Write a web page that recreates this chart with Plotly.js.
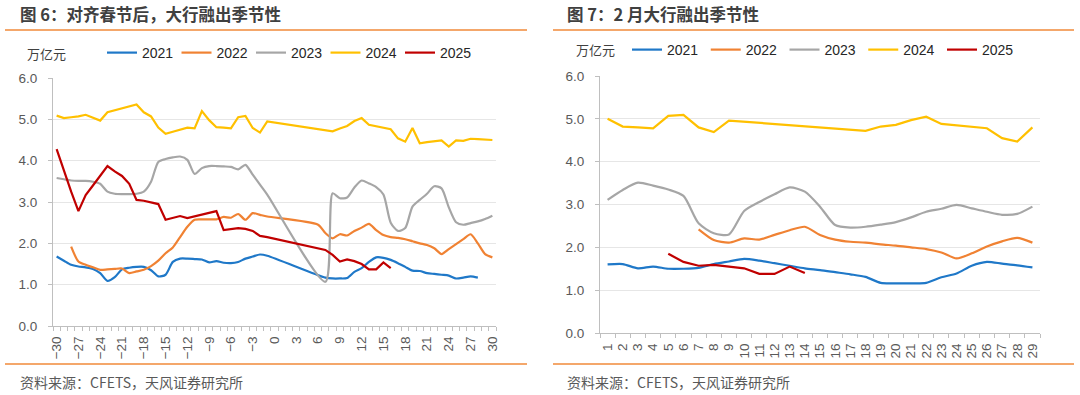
<!DOCTYPE html>
<html>
<head>
<meta charset="utf-8">
<script src="https://cdn.plot.ly/plotly-3.0.1.min.js"></script>
<style>
html,body{margin:0;padding:0;background:#ffffff;}
#chart{width:1080px;height:395px;}
</style>
</head>
<body>
<div id="chart"></div>
<script>
// ---------- Figure 6: days relative to Spring Festival ----------
const daysLeft = [-30,-29,-28,-27,-26,-25,-24,-23,-22,-21,-20,-19,-18,-17,-16,-15,-14,-13,-12,-11,-10,-9,-8,-7,-6,-5,-4,-3,-2,-1,
  0,1,2,3,4,5,6,7,8,9,10,11,12,13,14,15,16,17,18,19,20,21,22,23,24,25,26,27,28,29,30];

const left2021 = [1.68,1.58,1.48,1.44,1.42,1.38,1.28,1.09,1.18,1.37,1.41,1.43,1.43,1.35,1.20,1.24,1.55,1.63,1.63,1.62,1.61,1.54,1.57,1.53,1.52,1.55,1.63,1.68,1.73,1.70,
  null,null,null,null,null,null,null,
  1.17,1.15,1.15,1.16,1.31,1.40,1.55,1.66,1.65,1.60,1.52,1.43,1.34,1.33,1.28,1.26,1.24,1.22,1.15,1.17,1.20,1.17,null,null];

const left2022 = [null,null,1.92,1.56,1.48,1.42,1.36,1.37,1.38,1.39,1.28,1.32,1.36,1.45,1.58,1.76,1.90,2.15,2.40,2.57,2.58,2.58,2.58,2.64,2.62,2.71,2.57,2.73,2.69,2.65,
  null,null,null,null,null,null,
  2.45,2.25,2.12,2.22,2.19,2.30,2.38,2.47,2.32,2.20,2.15,2.13,2.10,2.05,2.00,1.96,1.88,1.74,1.86,1.98,2.10,2.22,2.00,1.74,1.66];

const left2023 = [3.58,3.55,3.52,3.51,3.51,3.49,3.44,3.25,3.20,3.19,3.19,3.20,3.25,3.49,3.97,4.04,4.08,4.10,4.02,3.68,3.82,3.87,3.87,3.86,3.85,3.79,3.90,3.66,3.42,3.18,
  null,null,null,null,null,null,null,
  1.07,3.21,3.09,3.11,3.35,3.52,3.45,3.36,3.18,2.50,2.30,2.37,2.89,3.05,3.20,3.38,3.33,2.87,2.51,2.45,2.49,2.53,2.59,2.67];

const left2024 = [5.09,5.03,5.05,5.07,5.11,5.03,4.97,5.17,5.22,5.27,5.32,5.36,5.17,5.07,4.80,4.65,4.70,4.75,4.80,4.78,5.20,4.98,4.81,4.80,4.78,5.05,5.08,4.79,4.68,4.95,
  null,null,null,null,null,null,null,null,
  4.71,4.78,4.84,4.96,5.03,4.87,4.83,4.80,4.76,4.54,4.46,4.79,4.42,4.45,4.47,4.49,4.34,4.49,4.48,4.53,4.52,4.51,4.50];

const left2025 = [4.28,3.75,3.25,2.78,3.17,3.40,3.63,3.87,3.74,3.63,3.44,3.05,3.03,2.99,2.95,2.57,2.62,2.66,2.61,2.65,2.69,2.73,2.78,2.32,2.34,2.37,2.35,2.30,2.18,2.15,
  null,null,null,null,null,null,null,
  1.84,1.72,1.56,1.61,1.57,1.50,1.37,1.37,1.54,1.40,null,null,null,null,null,null,null,null,null,null,null,null,null,null];

// ---------- Figure 7: February calendar days ----------
const daysRight = [1,2,3,4,5,6,7,8,9,10,11,12,13,14,15,16,17,18,19,20,21,22,23,24,25,26,27,28,29];

const right2021 = [1.60,1.61,1.51,1.55,1.50,1.50,1.52,1.61,1.67,1.73,1.69,1.63,1.57,1.51,1.47,1.42,1.37,1.31,1.17,1.16,1.16,1.17,1.30,1.39,1.57,1.66,1.62,1.58,1.53];
const right2022 = [null,null,null,null,null,null,2.42,2.17,2.11,2.21,2.18,2.29,2.40,2.48,2.29,2.18,2.13,2.11,2.07,2.04,2.00,1.96,1.88,1.74,1.86,2.02,2.14,2.22,2.11];
const right2023 = [3.11,3.34,3.51,3.44,3.35,3.20,2.56,2.33,2.30,2.85,3.06,3.24,3.40,3.30,2.95,2.52,2.46,2.48,2.53,2.59,2.70,2.83,2.90,2.99,2.91,2.83,2.76,2.78,2.95];
const right2024 = [5.00,4.82,4.80,4.78,5.07,5.09,4.80,4.69,4.96,null,null,null,null,null,null,null,null,4.72,4.82,4.86,4.97,5.05,4.88,null,null,4.78,4.55,4.47,4.80];
const right2025 = [null,null,null,null,1.85,1.66,1.57,1.59,1.55,1.51,1.38,1.38,1.55,1.40,null,null,null,null,null,null,null,null,null,null,null,null,null,null,null];

const seriesNames = ['2021','2022','2023','2024','2025'];
const seriesColors = ['#1F78C8','#F08233','#A6A6A6','#FFC000','#C00000'];
const smoothSeries = [true,true,true,false,false];

const leftValues = [left2021,left2022,left2023,left2024,left2025];
const rightValues = [right2021,right2022,right2023,right2024,right2025];

const titleLeft = '图 6：对齐春节后，大行融出季节性';
const titleRight = '图 7：2 月大行融出季节性';
const unitText = '万亿元';
const sourceText = '资料来源：CFETS，天风证券研究所';

const LATIN = 'Liberation Sans, Arial, Noto Sans CJK SC, sans-serif';
const CJK = 'Noto Sans CJK SC, Liberation Sans, sans-serif';
const ORANGE_RULE = '#F08A3A';
const W = 1080, H = 395;
const px = v => v / W;
const py = v => 1 - v / H;

const traces = [];
seriesNames.forEach((name, i) => {
  const line = {color: seriesColors[i], width: 2.2};
  if (smoothSeries[i]) { line.shape = 'spline'; line.smoothing = 0.7; }
  traces.push({
    type: 'scatter', mode: 'lines', name: name,
    x: daysLeft, y: leftValues[i], connectgaps: true,
    line: line, xaxis: 'x', yaxis: 'y', legend: 'legend', hoverinfo: 'skip'
  });
  traces.push({
    type: 'scatter', mode: 'lines', name: name,
    x: daysRight, y: rightValues[i], connectgaps: true,
    line: Object.assign({}, line), xaxis: 'x2', yaxis: 'y2', legend: 'legend2', hoverinfo: 'skip'
  });
});

const tickFont = {family: LATIN, size: 13.5, color: '#595959'};
const axisLine = '#BFBFBF';

function xAxis(domain, range, tick0, dtick) {
  return {
    domain: domain, range: range, type: 'linear',
    tickmode: 'linear', tick0: tick0, dtick: dtick,
    ticks: '', tickangle: -90, tickfont: tickFont,
    showline: true, linecolor: axisLine, linewidth: 1,
    showgrid: false, zeroline: false, fixedrange: true,
    ticklabelstandoff: 4,
    minor: {tickmode: 'linear', tick0: 0.5, dtick: 1, ticks: 'outside', ticklen: 4, tickcolor: axisLine, tickwidth: 1, showgrid: false}
  };
}
function yAxis(domain, anchor) {
  return {
    domain: domain, range: [0, 6], tickmode: 'linear', tick0: 0, dtick: 1,
    tickformat: '.1f', tickfont: tickFont, anchor: anchor,
    showline: true, linecolor: axisLine, linewidth: 1,
    ticks: 'outside', ticklen: 4, tickcolor: axisLine,
    showgrid: true, gridcolor: '#E6E6E6', gridwidth: 1,
    zeroline: false, fixedrange: true, ticklabelstandoff: 8
  };
}

const legendBase = {
  orientation: 'h', xanchor: 'left', yanchor: 'middle',
  font: {family: LATIN, size: 14, color: '#262626'},
  bgcolor: 'rgba(0,0,0,0)', borderwidth: 0,
  itemwidth: 30, entrywidthmode: 'pixels', traceorder: 'normal',
  itemclick: false, itemdoubleclick: false
};

const layout = {
  width: W, height: H,
  margin: {l: 0, r: 0, t: 0, b: 0},
  paper_bgcolor: '#ffffff', plot_bgcolor: '#ffffff',
  font: {family: LATIN, color: '#595959'},
  showlegend: true,
  xaxis: Object.assign(xAxis([px(53), px(496)], [-30.5, 30.5], -30, 3), {anchor: 'y'}),
  yaxis: yAxis([py(326), py(78)], 'x'),
  xaxis2: Object.assign(xAxis([px(600), px(1040)], [0.5, 29.5], 1, 1), {anchor: 'y2'}),
  yaxis2: yAxis([py(333), py(76)], 'x2'),
  legend: Object.assign({}, legendBase, {x: px(102), y: py(53), entrywidth: 29.5}),
  legend2: Object.assign({}, legendBase, {x: px(627), y: py(50), entrywidth: 33.75}),
  shapes: [
    {type: 'line', xref: 'paper', yref: 'paper', x0: px(5), x1: px(527), y0: py(30), y1: py(30), line: {color: ORANGE_RULE, width: 1.5}},
    {type: 'line', xref: 'paper', yref: 'paper', x0: px(553), x1: px(1074), y0: py(30), y1: py(30), line: {color: ORANGE_RULE, width: 1.5}},
    {type: 'line', xref: 'paper', yref: 'paper', x0: px(5), x1: px(527), y0: py(364), y1: py(364), line: {color: ORANGE_RULE, width: 1.5}},
    {type: 'line', xref: 'paper', yref: 'paper', x0: px(553), x1: px(1074), y0: py(364), y1: py(364), line: {color: ORANGE_RULE, width: 1.5}}
  ],
  annotations: [
    {text: '<b>' + titleLeft + '</b>', xref: 'paper', yref: 'paper', x: px(18), y: py(14), xanchor: 'left', yanchor: 'middle', showarrow: false, font: {family: CJK, size: 16.5, color: '#404040'}},
    {text: '<b>' + titleRight + '</b>', xref: 'paper', yref: 'paper', x: px(565), y: py(14), xanchor: 'left', yanchor: 'middle', showarrow: false, font: {family: CJK, size: 16.5, color: '#404040'}},
    {text: unitText, xref: 'paper', yref: 'paper', x: px(46), y: py(53), xanchor: 'center', yanchor: 'middle', showarrow: false, font: {family: CJK, size: 13, color: '#404040'}},
    {text: unitText, xref: 'paper', yref: 'paper', x: px(595), y: py(49), xanchor: 'center', yanchor: 'middle', showarrow: false, font: {family: CJK, size: 13, color: '#404040'}},
    {text: sourceText, xref: 'paper', yref: 'paper', x: px(18), y: py(382), xanchor: 'left', yanchor: 'middle', showarrow: false, font: {family: CJK, size: 14, color: '#595959'}},
    {text: sourceText, xref: 'paper', yref: 'paper', x: px(565), y: py(382), xanchor: 'left', yanchor: 'middle', showarrow: false, font: {family: CJK, size: 14, color: '#595959'}}
  ]
};

Plotly.newPlot('chart', traces, layout, {displayModeBar: false, staticPlot: true, responsive: false});
</script>
</body>
</html>
